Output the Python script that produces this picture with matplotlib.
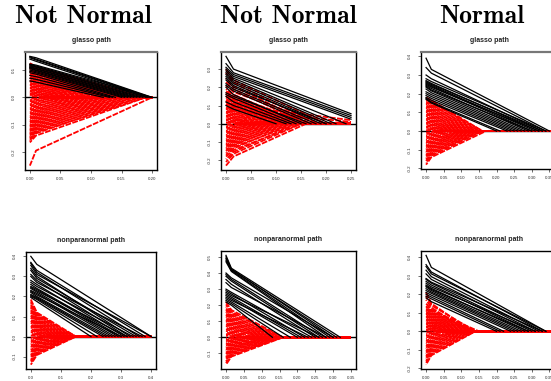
import matplotlib
matplotlib.use("Agg")
import matplotlib.pyplot as plt

plt.rcParams['font.family'] = ['Liberation Sans', 'DejaVu Sans']

# column headers
col_titles = ["Not Normal", "Not Normal", "Normal"]
row_titles = ["glasso path", "nonparanormal path"]

# path data: (value at 0, value at knee, lambda where path ends, [value at end])
# --- glasso, not normal (1)
a_black = [(0.150, 0.145, 0.200), (0.148, 0.140, 0.198), (0.145, 0.137, 0.195),
           (0.140, 0.132, 0.190), (0.122, 0.118, 0.200), (0.120, 0.115, 0.192),
           (0.118, 0.112, 0.185), (0.115, 0.110, 0.180), (0.112, 0.106, 0.175),
           (0.110, 0.104, 0.170), (0.108, 0.100, 0.165), (0.105, 0.098, 0.160),
           (0.100, 0.094, 0.155), (0.095, 0.090, 0.150), (0.090, 0.085, 0.140),
           (0.080, 0.076, 0.135), (0.070, 0.066, 0.130), (0.060, 0.056, 0.120)]
a_red = [(0.125, 0.112, 0.19), (0.121, 0.108, 0.17), (0.117, 0.105, 0.18), (0.113, 0.101, 0.16),
         (0.109, 0.098, 0.17), (0.105, 0.094, 0.15), (0.101, 0.090, 0.16), (0.097, 0.087, 0.14),
         (0.093, 0.083, 0.15), (0.089, 0.080, 0.13), (0.085, 0.076, 0.14), (0.081, 0.072, 0.12),
         (0.077, 0.069, 0.13), (0.073, 0.065, 0.11), (0.069, 0.062, 0.12), (0.065, 0.058, 0.10),
         (0.061, 0.054, 0.11), (0.057, 0.051, 0.09), (0.053, 0.047, 0.10), (0.049, 0.044, 0.08),
         (0.045, 0.040, 0.09), (0.041, 0.036, 0.07), (0.037, 0.033, 0.08), (0.033, 0.029, 0.06),
         (0.029, 0.026, 0.07), (0.025, 0.022, 0.05), (0.021, 0.018, 0.06), (0.017, 0.015, 0.04),
         (0.013, 0.011, 0.05), (0.009, 0.008, 0.03), (0.005, 0.004, 0.03),
         (-0.250, -0.195, 0.20), (-0.165, -0.140, 0.19), (-0.160, -0.132, 0.18), (-0.155, -0.128, 0.19),
         (-0.150, -0.124, 0.17), (-0.145, -0.120, 0.18), (-0.140, -0.116, 0.16), (-0.135, -0.112, 0.17),
         (-0.130, -0.108, 0.15), (-0.125, -0.104, 0.16), (-0.120, -0.100, 0.14), (-0.115, -0.096, 0.15),
         (-0.110, -0.092, 0.13), (-0.105, -0.088, 0.14), (-0.100, -0.084, 0.12), (-0.095, -0.080, 0.13),
         (-0.090, -0.076, 0.11), (-0.085, -0.072, 0.12), (-0.080, -0.068, 0.10), (-0.075, -0.064, 0.11),
         (-0.070, -0.060, 0.09), (-0.065, -0.056, 0.10), (-0.060, -0.052, 0.08), (-0.055, -0.048, 0.09),
         (-0.050, -0.044, 0.07), (-0.045, -0.040, 0.08), (-0.040, -0.035, 0.06), (-0.035, -0.031, 0.07),
         (-0.030, -0.026, 0.05), (-0.025, -0.022, 0.06), (-0.020, -0.017, 0.04), (-0.015, -0.013, 0.05),
         (-0.010, -0.009, 0.03), (-0.005, -0.004, 0.03)]

# --- glasso, not normal (2)
b_black = [(0.37, 0.30, 0.25, 0.055), (0.33, 0.28, 0.25, 0.045), (0.31, 0.27, 0.25, 0.035),
           (0.30, 0.26, 0.25, 0.025), (0.29, 0.25, 0.24), (0.28, 0.24, 0.22), (0.27, 0.23, 0.21),
           (0.26, 0.22, 0.20), (0.25, 0.21, 0.19), (0.24, 0.20, 0.20), (0.22, 0.19, 0.18),
           (0.21, 0.18, 0.17), (0.20, 0.16, 0.15), (0.17, 0.15, 0.16), (0.16, 0.14, 0.14),
           (0.15, 0.12, 0.13), (0.12, 0.10, 0.12), (0.10, 0.08, 0.10)]
b_red = [(0.300, 0.240, 0.20), (0.280, 0.225, 0.18), (0.250, 0.205, 0.17), (0.230, 0.190, 0.16),
         (0.210, 0.175, 0.19), (0.190, 0.160, 0.15), (0.180, 0.150, 0.17), (0.172, 0.144, 0.14),
         (0.165, 0.138, 0.16), (0.158, 0.132, 0.13), (0.151, 0.126, 0.15), (0.144, 0.120, 0.12),
         (0.137, 0.114, 0.14), (0.130, 0.108, 0.11), (0.123, 0.102, 0.13), (0.116, 0.096, 0.10),
         (0.109, 0.090, 0.12), (0.102, 0.085, 0.09), (0.095, 0.079, 0.11), (0.088, 0.073, 0.08),
         (0.081, 0.067, 0.10), (0.074, 0.061, 0.07), (0.067, 0.056, 0.09), (0.060, 0.050, 0.06),
         (0.053, 0.044, 0.08), (0.046, 0.038, 0.05), (0.039, 0.032, 0.07), (0.032, 0.027, 0.05),
         (0.025, 0.021, 0.06), (0.018, 0.015, 0.04), (0.011, 0.009, 0.04), (0.005, 0.004, 0.03),
         (0.12, 0.10, 0.25, 0.02), (0.09, 0.075, 0.25, 0.01),
         (-0.230, -0.180, 0.16), (-0.210, -0.165, 0.15), (-0.195, -0.155, 0.14), (-0.180, -0.145, 0.15),
         (-0.170, -0.136, 0.13), (-0.160, -0.128, 0.14), (-0.150, -0.120, 0.12), (-0.142, -0.114, 0.13),
         (-0.134, -0.108, 0.11), (-0.126, -0.101, 0.12), (-0.118, -0.095, 0.10), (-0.110, -0.088, 0.11),
         (-0.102, -0.082, 0.09), (-0.094, -0.075, 0.10), (-0.086, -0.069, 0.08), (-0.078, -0.062, 0.09),
         (-0.070, -0.056, 0.07), (-0.062, -0.050, 0.08), (-0.054, -0.043, 0.06), (-0.046, -0.037, 0.07),
         (-0.038, -0.030, 0.05), (-0.030, -0.024, 0.06), (-0.022, -0.018, 0.04), (-0.014, -0.011, 0.04),
         (-0.006, -0.005, 0.03)]

# --- glasso, normal
c_black = [(0.390, 0.330, 0.35), (0.340, 0.310, 0.34), (0.300, 0.280, 0.33), (0.280, 0.265, 0.34),
           (0.270, 0.255, 0.32), (0.265, 0.250, 0.33), (0.260, 0.245, 0.31), (0.255, 0.240, 0.30),
           (0.250, 0.235, 0.32), (0.245, 0.228, 0.29), (0.240, 0.220, 0.30), (0.235, 0.215, 0.28),
           (0.225, 0.205, 0.27), (0.210, 0.195, 0.26), (0.200, 0.185, 0.25), (0.190, 0.175, 0.24),
           (0.180, 0.165, 0.23), (0.175, 0.155, 0.21), (0.170, 0.150, 0.20)]
c_red = [(0.180, 0.165, 0.16), (0.172, 0.158, 0.15), (0.165, 0.151, 0.16), (0.158, 0.144, 0.14),
         (0.151, 0.138, 0.15), (0.144, 0.131, 0.13), (0.137, 0.125, 0.14), (0.130, 0.118, 0.12),
         (0.123, 0.112, 0.13), (0.116, 0.105, 0.11), (0.109, 0.099, 0.12), (0.102, 0.092, 0.10),
         (0.095, 0.086, 0.11), (0.088, 0.080, 0.09), (0.081, 0.073, 0.10), (0.074, 0.067, 0.08),
         (0.067, 0.060, 0.09), (0.060, 0.054, 0.07), (0.053, 0.048, 0.08), (0.046, 0.041, 0.06),
         (0.039, 0.035, 0.07), (0.032, 0.029, 0.05), (0.025, 0.022, 0.06), (0.018, 0.016, 0.04),
         (0.011, 0.010, 0.04), (0.005, 0.004, 0.03),
         (-0.180, -0.140, 0.17), (-0.170, -0.132, 0.16), (-0.160, -0.125, 0.15), (-0.152, -0.119, 0.16),
         (-0.144, -0.113, 0.14), (-0.136, -0.107, 0.15), (-0.128, -0.101, 0.13), (-0.120, -0.095, 0.14),
         (-0.112, -0.089, 0.12), (-0.104, -0.083, 0.13), (-0.096, -0.077, 0.11), (-0.088, -0.071, 0.12),
         (-0.080, -0.065, 0.10), (-0.072, -0.058, 0.11), (-0.064, -0.052, 0.09), (-0.056, -0.045, 0.10),
         (-0.048, -0.039, 0.08), (-0.040, -0.032, 0.07), (-0.032, -0.026, 0.06), (-0.024, -0.019, 0.05),
         (-0.016, -0.013, 0.04), (-0.008, -0.006, 0.03)]

# --- nonparanormal, not normal (1)
d_black = [(0.400, 0.360, 0.40), (0.370, 0.330, 0.38), (0.365, 0.320, 0.36), (0.355, 0.310, 0.40),
           (0.340, 0.300, 0.33), (0.330, 0.290, 0.35), (0.310, 0.280, 0.32), (0.300, 0.270, 0.37),
           (0.280, 0.260, 0.31), (0.270, 0.250, 0.34), (0.260, 0.240, 0.30), (0.250, 0.235, 0.29),
           (0.245, 0.228, 0.32), (0.240, 0.222, 0.28), (0.230, 0.215, 0.27), (0.225, 0.208, 0.30),
           (0.220, 0.200, 0.26), (0.210, 0.195, 0.25), (0.205, 0.190, 0.24), (0.200, 0.185, 0.22),
           (0.195, 0.175, 0.20)]
d_red = [(0.185, 0.120, 0.15), (0.175, 0.114, 0.14), (0.166, 0.108, 0.15), (0.158, 0.103, 0.13),
         (0.150, 0.098, 0.14), (0.142, 0.092, 0.12), (0.134, 0.087, 0.13), (0.126, 0.082, 0.11),
         (0.118, 0.077, 0.12), (0.110, 0.072, 0.10), (0.102, 0.066, 0.11), (0.094, 0.061, 0.09),
         (0.086, 0.056, 0.10), (0.078, 0.051, 0.08), (0.070, 0.046, 0.09), (0.062, 0.040, 0.07),
         (0.054, 0.035, 0.08), (0.046, 0.030, 0.06), (0.038, 0.025, 0.07), (0.030, 0.020, 0.05),
         (0.022, 0.014, 0.05), (0.014, 0.009, 0.04), (0.006, 0.004, 0.03),
         (-0.140, -0.092, 0.15), (-0.132, -0.086, 0.14), (-0.124, -0.081, 0.15), (-0.116, -0.076, 0.13),
         (-0.108, -0.070, 0.14), (-0.100, -0.065, 0.12), (-0.092, -0.060, 0.13), (-0.084, -0.055, 0.11),
         (-0.076, -0.050, 0.12), (-0.068, -0.044, 0.10), (-0.060, -0.039, 0.11), (-0.052, -0.034, 0.09),
         (-0.044, -0.029, 0.08), (-0.036, -0.024, 0.07), (-0.028, -0.018, 0.06), (-0.020, -0.013, 0.05),
         (-0.012, -0.008, 0.04), (-0.005, -0.003, 0.03)]

# --- nonparanormal, not normal (2)
e_black = [(0.510, 0.430, 0.32), (0.500, 0.425, 0.30), (0.490, 0.420, 0.31), (0.480, 0.415, 0.29),
           (0.470, 0.410, 0.28), (0.400, 0.370, 0.30), (0.390, 0.360, 0.27), (0.380, 0.350, 0.26),
           (0.360, 0.330, 0.25), (0.340, 0.310, 0.28), (0.300, 0.280, 0.24), (0.290, 0.270, 0.22),
           (0.280, 0.260, 0.26), (0.270, 0.250, 0.21), (0.260, 0.240, 0.20), (0.250, 0.230, 0.23),
           (0.240, 0.220, 0.18), (0.230, 0.210, 0.16), (0.220, 0.200, 0.13)]
e_red = [(0.220, 0.170, 0.16), (0.205, 0.160, 0.15), (0.192, 0.150, 0.16), (0.180, 0.141, 0.14),
         (0.170, 0.133, 0.15), (0.160, 0.125, 0.13), (0.150, 0.117, 0.14), (0.140, 0.109, 0.12),
         (0.130, 0.101, 0.13), (0.120, 0.094, 0.11), (0.110, 0.086, 0.12), (0.100, 0.078, 0.10),
         (0.090, 0.070, 0.11), (0.080, 0.062, 0.09), (0.070, 0.055, 0.10), (0.060, 0.047, 0.08),
         (0.050, 0.039, 0.07), (0.040, 0.031, 0.06), (0.030, 0.023, 0.05), (0.020, 0.016, 0.05),
         (0.010, 0.008, 0.04),
         (-0.170, -0.120, 0.16), (-0.160, -0.113, 0.15), (-0.150, -0.106, 0.16), (-0.141, -0.100, 0.14),
         (-0.132, -0.094, 0.15), (-0.123, -0.087, 0.13), (-0.114, -0.081, 0.14), (-0.105, -0.074, 0.12),
         (-0.096, -0.068, 0.13), (-0.087, -0.062, 0.11), (-0.078, -0.055, 0.12), (-0.069, -0.049, 0.10),
         (-0.060, -0.043, 0.09), (-0.051, -0.036, 0.08), (-0.042, -0.030, 0.07), (-0.033, -0.023, 0.06),
         (-0.024, -0.017, 0.05), (-0.015, -0.011, 0.04), (-0.006, -0.004, 0.03)]

# --- nonparanormal, normal
f_black = [(0.410, 0.345, 0.34), (0.360, 0.320, 0.33), (0.350, 0.310, 0.34), (0.330, 0.295, 0.32),
           (0.310, 0.280, 0.31), (0.285, 0.265, 0.33), (0.280, 0.260, 0.30), (0.270, 0.250, 0.29),
           (0.260, 0.240, 0.31), (0.250, 0.232, 0.28), (0.245, 0.226, 0.29), (0.240, 0.220, 0.27),
           (0.230, 0.212, 0.26), (0.220, 0.205, 0.25), (0.210, 0.195, 0.24), (0.200, 0.185, 0.22),
           (0.190, 0.175, 0.21), (0.180, 0.160, 0.20)]
f_red = [(0.210, 0.150, 0.13), (0.190, 0.140, 0.14), (0.170, 0.128, 0.12), (0.150, 0.118, 0.14),
         (0.136, 0.112, 0.15), (0.130, 0.107, 0.13), (0.124, 0.102, 0.14), (0.118, 0.097, 0.12),
         (0.112, 0.092, 0.13), (0.106, 0.087, 0.11), (0.100, 0.082, 0.12), (0.094, 0.077, 0.10),
         (0.088, 0.072, 0.11), (0.082, 0.067, 0.09), (0.076, 0.062, 0.10), (0.070, 0.057, 0.08),
         (0.064, 0.052, 0.09), (0.058, 0.047, 0.07), (0.052, 0.042, 0.08), (0.046, 0.037, 0.06),
         (0.040, 0.032, 0.07), (0.034, 0.027, 0.05), (0.028, 0.022, 0.06), (0.022, 0.017, 0.04),
         (0.016, 0.013, 0.04), (0.010, 0.008, 0.03), (0.005, 0.004, 0.03),
         (-0.180, -0.130, 0.14), (-0.170, -0.123, 0.13), (-0.160, -0.116, 0.14), (-0.151, -0.110, 0.12),
         (-0.142, -0.103, 0.13), (-0.133, -0.097, 0.11), (-0.124, -0.090, 0.12), (-0.115, -0.084, 0.10),
         (-0.106, -0.077, 0.11), (-0.097, -0.071, 0.09), (-0.088, -0.064, 0.10), (-0.079, -0.058, 0.08),
         (-0.070, -0.051, 0.09), (-0.061, -0.045, 0.07), (-0.052, -0.038, 0.08), (-0.043, -0.032, 0.06),
         (-0.034, -0.025, 0.05), (-0.025, -0.018, 0.05), (-0.016, -0.012, 0.04), (-0.007, -0.005, 0.03)]

# lambda of the knee, max lambda, data y range, ticks
knees = [0.01, 0.015, 0.015, 0.02, 0.015, 0.015]
xmaxs = [0.20, 0.25, 0.36, 0.40, 0.35, 0.36]
yranges = [(-0.25, 0.15), (-0.23, 0.37), (-0.18, 0.40), (-0.14, 0.40), (-0.17, 0.51), (-0.18, 0.41)]
xticks = [[0, 0.05, 0.10, 0.15, 0.20],
          [0, 0.05, 0.10, 0.15, 0.20, 0.25],
          [0, 0.05, 0.10, 0.15, 0.20, 0.25, 0.30, 0.35],
          [0, 0.1, 0.2, 0.3, 0.4],
          [0, 0.05, 0.10, 0.15, 0.20, 0.25, 0.30, 0.35],
          [0, 0.05, 0.10, 0.15, 0.20, 0.25, 0.30, 0.35]]
xfmt = ["%.2f", "%.2f", "%.2f", "%.1f", "%.2f", "%.2f"]
yticks = [[-0.2, -0.1, 0.0, 0.1],
          [-0.2, -0.1, 0.0, 0.1, 0.2, 0.3],
          [-0.2, -0.1, 0.0, 0.1, 0.2, 0.3, 0.4],
          [-0.1, 0.0, 0.1, 0.2, 0.3, 0.4],
          [-0.1, 0.0, 0.1, 0.2, 0.3, 0.4, 0.5],
          [-0.2, -0.1, 0.0, 0.1, 0.2, 0.3, 0.4]]

blacks = [a_black, b_black, c_black, d_black, e_black, f_black]
reds = [a_red, b_red, c_red, d_red, e_red, f_red]

# axes boxes in pixels: left, right, top, bottom
W, H = 551, 381
boxes = [(25, 157, 52, 170), (221, 356, 52, 170), (421, 558, 52, 169),
         (26, 156, 252, 369), (221, 356, 251, 369), (421, 558, 251, 369)]

fig = plt.figure(figsize=(W / 100, H / 100), dpi=100)


def path(v, knee, xmax, extend):
    xs = [0, knee, v[2]]
    ys = [v[0], v[1], v[3] if len(v) > 3 else 0]
    if extend and len(v) == 3:
        xs.append(xmax)
        ys.append(0)
    return xs, ys


for i in range(6):
    l, r, t, b = boxes[i]
    ax = fig.add_axes([l / W, 1 - b / H, (r - l) / W, (b - t) / H])
    ax.axhline(0, color="black", lw=1.0, zorder=1.5)
    for k, v in enumerate(reds[i]):
        xs, ys = path(v, knees[i], xmaxs[i], True)
        # shift the dash phase from line to line so gaps do not line up
        ax.plot(xs, ys, color="red", lw=1.3, ls=((k * 1.3) % 4.0, (3.2, 0.8)), zorder=2)
    for v in blacks[i]:
        xs, ys = path(v, knees[i], xmaxs[i], False)
        ax.plot(xs, ys, color="black", lw=0.9, zorder=3)

    # R style 4% padding
    px = 0.04 * xmaxs[i]
    ax.set_xlim(-px, xmaxs[i] + px)
    y0, y1 = yranges[i]
    py = 0.04 * (y1 - y0)
    ax.set_ylim(y0 - py, y1 + py)

    ax.set_xticks(xticks[i])
    ax.set_xticklabels([xfmt[i] % x for x in xticks[i]])
    ax.set_yticks(yticks[i])
    ax.set_yticklabels(["%.1f" % y for y in yticks[i]])
    ax.tick_params(axis="both", labelsize=3.2, length=2.2, width=0.5,
                   colors="#333333", direction="out")
    ax.tick_params(axis="x", pad=2.5)
    ax.tick_params(axis="y", pad=4.5, labelrotation=90)
    for lab in ax.get_yticklabels():
        lab.set_va("center")
    for s in ax.spines.values():
        s.set_linewidth(1.0)
    if i < 3:
        ax.spines["top"].set_color("#777777")
        ax.spines["top"].set_linewidth(1.6)

    ax.set_title(row_titles[i // 3], fontsize=5, fontweight="bold", pad=7, color="#222222")

# column headings
heads_x = [83, 288, 482]
for j in range(3):
    fig.text(heads_x[j] / W, 1 - 23 / H, col_titles[j], ha="center", va="baseline",
             fontsize=18.5, family=["cmb10", "DejaVu Serif"], fontweight="bold")

fig.savefig("out.png", dpi=100)
